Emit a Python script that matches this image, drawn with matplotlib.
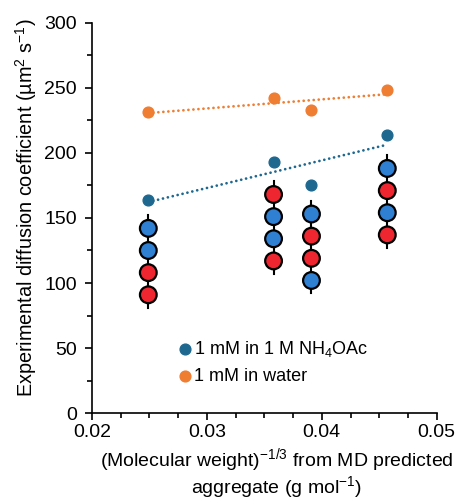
import matplotlib
matplotlib.use('Agg')
import matplotlib.pyplot as plt
import numpy as np
from matplotlib.ticker import MultipleLocator

plt.rcParams['font.family'] = ['Liberation Sans', 'DejaVu Sans']
plt.rcParams['mathtext.fontset'] = 'custom'
plt.rcParams['mathtext.rm'] = 'Liberation Sans'
plt.rcParams['mathtext.it'] = 'Liberation Sans:italic'
plt.rcParams['font.size'] = 13

# data
mw_x = [0.0249, 0.0358, 0.0391, 0.0457]
d_nh4oac = [164, 193, 175, 214]
d_water = [231, 242, 233, 248]

# aggregate sketches: bead order (top -> bottom) and y of the top bead
beads = [['b', 'b', 'r', 'r'],
         ['r', 'b', 'b', 'r'],
         ['b', 'r', 'r', 'b'],
         ['b', 'r', 'b', 'r']]
bead_top = [142, 168, 153, 188]
bead_step = 17

c_nh4 = '#1e6890'
c_water = '#ef7d32'
bead_col = {'b': '#2f80d2', 'r': '#ee2630'}

fig = plt.figure(figsize=(4.57, 5.01), dpi=100)
ax = fig.add_axes([0.2013, 0.175, 0.7543, 0.78])

# aggregate chains
for x, seq, top in zip(mw_x, beads, bead_top):
    ys = [top - i * bead_step for i in range(len(seq))]
    ax.plot([x, x], [ys[0] + 10, ys[-1] - 10], color='black', lw=1.5, zorder=2)
    ax.scatter([x] * len(seq), ys, s=145, c=[bead_col[k] for k in seq],
               edgecolors='black', linewidths=1.6, zorder=3)

# linear trend lines
for ys, col in [(d_nh4oac, c_nh4), (d_water, c_water)]:
    k, b = np.polyfit(mw_x, ys, 1)
    xx = np.array([min(mw_x), max(mw_x)])
    ax.plot(xx, k * xx + b, color=col, lw=2.0, ls=(0, (0.01, 1.8)),
            dash_capstyle='round', zorder=4)

h1 = ax.scatter(mw_x, d_nh4oac, s=60, color=c_nh4, zorder=5,
                label='1 mM in 1 M NH$_4$OAc')
h2 = ax.scatter(mw_x, d_water, s=60, color=c_water, zorder=5,
                label='1 mM in water')

ax.set_xlim(0.02, 0.05)
ax.set_ylim(0, 300)
ax.xaxis.set_major_locator(MultipleLocator(0.01))
ax.xaxis.set_minor_locator(MultipleLocator(0.0025))
ax.yaxis.set_major_locator(MultipleLocator(50))
ax.yaxis.set_minor_locator(MultipleLocator(25))
ax.xaxis.set_major_formatter(plt.FuncFormatter(lambda v, p: '%.2f' % v))

ax.spines['top'].set_visible(False)
ax.spines['right'].set_visible(False)
for s in ['left', 'bottom']:
    ax.spines[s].set_linewidth(1.2)
ax.tick_params(which='major', direction='out', length=5, width=1.2, pad=6,
               labelsize=14)
ax.tick_params(which='minor', direction='out', length=3.5, width=1.2)
ax.tick_params(axis='x', which='major', pad=3)

ax.legend(handles=[h1, h2], loc='upper left', bbox_to_anchor=(0.394, 0.323),
          bbox_transform=fig.transFigure, frameon=False, handlelength=0.6,
          handletextpad=0.15, borderpad=0, borderaxespad=0, labelspacing=0.5,
          fontsize=13)

fig.text(0.058, 0.586, 'Experimental diffusion coefficient (µm$^2$ s$^{-1}$)',
         rotation=90, ha='center', va='center', fontsize=14.3)
fig.text(0.606, 0.055,
         '(Molecular weight)$^{-1/3}$ from MD predicted\naggregate (g mol$^{-1}$)',
         ha='center', va='center', multialignment='center', fontsize=14,
         linespacing=1.0)

fig.savefig('out.png', dpi=100)
